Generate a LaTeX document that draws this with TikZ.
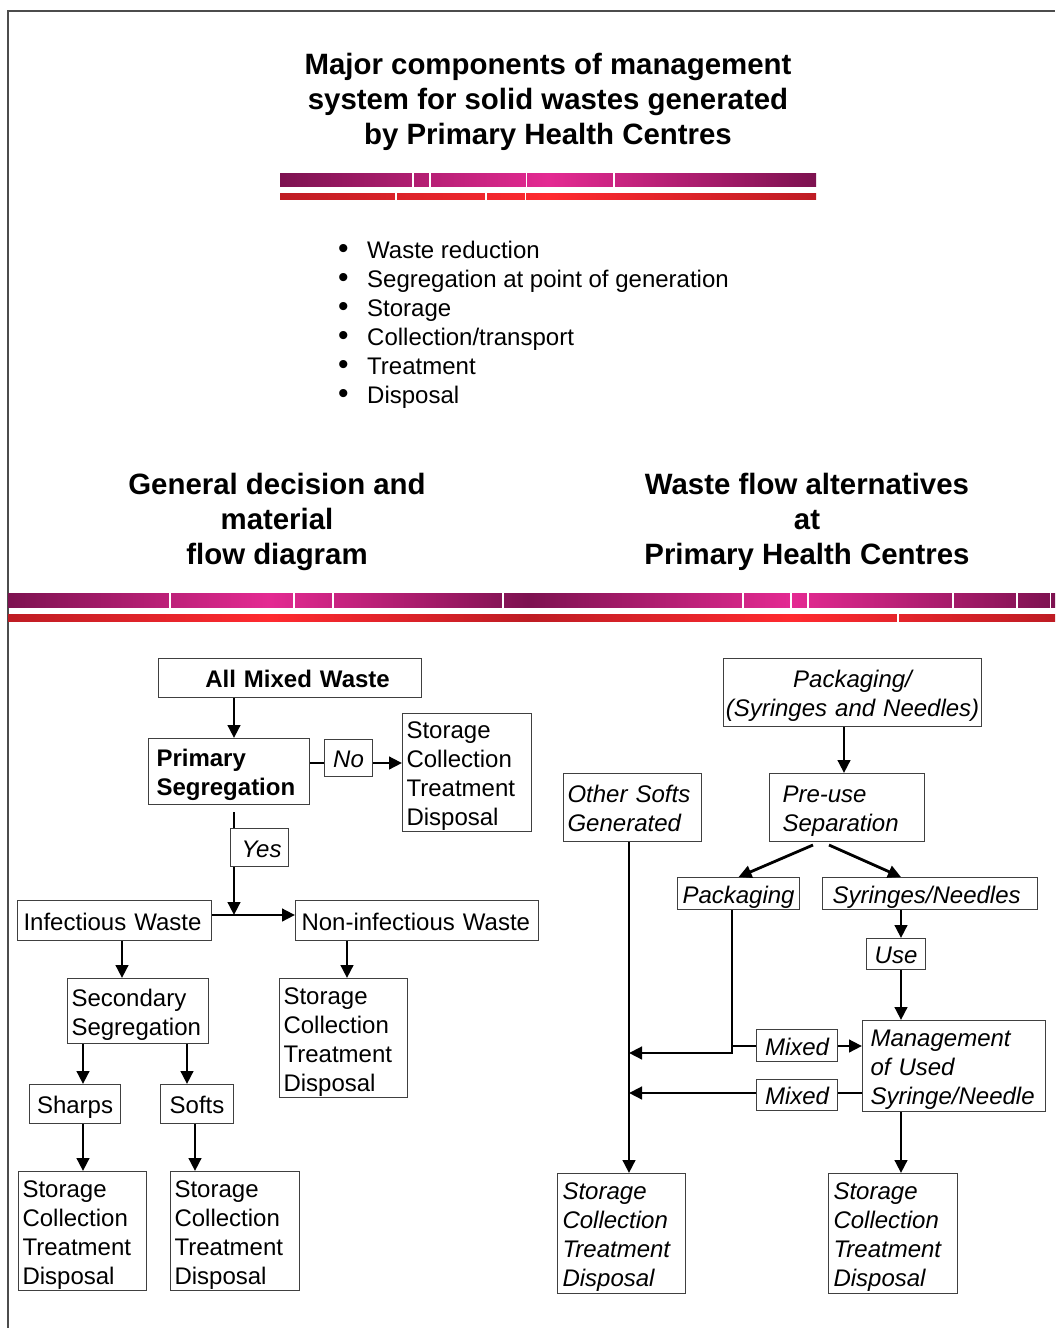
\documentclass[tikz,border=0pt]{standalone}
\usepackage{fontspec}
\setmainfont{Liberation Sans}
\usetikzlibrary{arrows.meta}
\hyphenpenalty=10000
\exhyphenpenalty=10000
\definecolor{pdark}{RGB}{125,18,80}
\definecolor{ppink}{RGB}{228,42,146}
\definecolor{rdark}{RGB}{190,28,36}
\definecolor{rbright}{RGB}{255,42,48}
\newcommand\myTs{\rule{0pt}{24pt}}
\newcommand\myBs{\rule[-5pt]{0pt}{5pt}}
\newcommand\mybul{\llap{{\fontsize{30}{29}\selectfont\textbullet}\hspace{18.5pt}}}
\begin{document}
\begin{tikzpicture}[x=1pt,y=-1pt,
  box/.style={draw=black!75, line width=1.1pt, fill=white, inner ysep=0pt, anchor=north west, font=\fontsize{24}{29}\selectfont},
  ibox/.style={box, font=\fontsize{24}{29}\selectfont\itshape},
  bbox/.style={box, font=\fontsize{24}{29}\selectfont\bfseries},
  head/.style={font=\fontsize{29.4}{35}\selectfont\bfseries, align=center, inner sep=0pt},
  ln/.style={line width=2.8pt},
  arr/.style={line width=2.8pt, -{Triangle[length=13pt,width=12.5pt]}},
  gap/.style={white, line width=1.5pt},
  purplebar/.style={left color=pdark, right color=pdark, middle color=ppink},
  redbar/.style={left color=rdark, right color=rdark, middle color=rbright}]
\path[use as bounding box, fill=white] (0,0) rectangle (1055,1328);
% frame
\draw[black!70, line width=1.5pt] (8,1328) -- (8,11) -- (1055,11);
% title
\node[head] (title) at (548,102) {\strut Major components of management\\system for solid wastes generated\\by Primary Health Centres\strut};
% top bars
\shade[purplebar] (280,173) rectangle (816,186);
\shade[redbar] (280,193) rectangle (816,199);
\foreach \x in {413,430,526.5,614} \draw[gap] (\x,172) -- (\x,187);
\foreach \x in {396,486,525.5} \draw[gap] (\x,192) -- (\x,200);
% bullets
\node[font=\fontsize{24}{29}\selectfont, align=left, inner sep=0pt, anchor=west] (bullets) at (367,324.8)
 {\strut\mybul Waste reduction\\\mybul Segregation at point of generation\\\mybul Storage\\\mybul Collection/transport\\\mybul Treatment\\\mybul Disposal\strut};
% headings
\node[head] (hl) at (277,522.5) {\strut General decision and\\material\\flow diagram\strut};
\node[head] (hr) at (807,522.5) {\strut Waste flow alternatives\\at\\Primary Health Centres\strut};
% wide bars
\shade[purplebar] (8,593) rectangle (528,607);
\shade[purplebar] (528,593) rectangle (1055,607);
\shade[redbar] (8,614) rectangle (528,621);
\shade[redbar] (528,614) rectangle (1055,621);
\foreach \x in {170,294,333,503,743,791,808,953,1017,1050.5} \draw[gap] (\x,592) -- (\x,608);
\draw[gap] (898,613) -- (898,622);

% ---------- left diagram ----------
\node[bbox, minimum width=263pt, minimum height=39pt, text width=255pt, inner xsep=4pt, align=center] (amw) at (158,658) {\myTs\hspace*{15pt}All Mixed Waste\myBs};
\node[bbox, minimum width=161pt, minimum height=66pt, text width=145pt, inner xsep=8pt, align=left] (prim) at (148,738) {\myTs Primary\\Segregation\myBs};
\node[ibox, minimum width=48pt, minimum height=37pt, text width=44pt, inner xsep=2pt, align=center] (no) at (324,739) {\myTs No\myBs};
\node[box, minimum width=129pt, minimum height=118pt, text width=121pt, inner xsep=4pt, align=left] (st1) at (402,713) {\myTs Storage\\Collection\\Treatment\\Disposal\myBs};
\node[ibox, minimum width=58pt, minimum height=38pt, text width=54pt, inner xsep=2pt, align=center] (yes) at (230,828) {\myTs\hspace*{4pt}Yes\myBs};
\node[box, minimum width=194pt, minimum height=40pt, text width=182pt, inner xsep=6pt, align=left] (inf) at (17,900) {\myTs Infectious Waste\myBs};
\node[box, minimum width=243pt, minimum height=40pt, text width=231pt, inner xsep=6pt, align=left] (noninf) at (295,900) {\myTs Non-infectious Waste\myBs};
\node[box, minimum width=141pt, minimum height=65pt, text width=133pt, inner xsep=4pt, align=left] (sec) at (67,978) {\myTs Secondary\\Segregation\myBs};
\node[box, minimum width=128pt, minimum height=119pt, text width=120pt, inner xsep=4pt, align=left] (st2) at (279,978) {\myTs Storage\\Collection\\Treatment\\Disposal\myBs};
\node[box, minimum width=91pt, minimum height=39pt, text width=87pt, inner xsep=2pt, align=center] (sharps) at (29,1084) {\myTs Sharps\myBs};
\node[box, minimum width=73pt, minimum height=39pt, text width=69pt, inner xsep=2pt, align=center] (softs) at (160,1084) {\myTs Softs\myBs};
\node[box, minimum width=128pt, minimum height=119pt, text width=120pt, inner xsep=4pt, align=left] (st3) at (18,1171) {\myTs Storage\\Collection\\Treatment\\Disposal\myBs};
\node[box, minimum width=129pt, minimum height=119pt, text width=121pt, inner xsep=4pt, align=left] (st4) at (170,1171) {\myTs Storage\\Collection\\Treatment\\Disposal\myBs};

\coordinate (xA) at (234,0);
\coordinate (yNo) at (0,763);
\coordinate (J) at (234,915);
\coordinate (xInf) at (122,0);
\coordinate (xNon) at (347,0);
\coordinate (xSh) at (83,0);
\coordinate (xSo) at (187,0);
\coordinate (xSo2) at (195,0);

\draw[arr] (amw.south -| xA) -- (prim.north -| xA);
\draw[ln] (prim.east |- yNo) -- (no.west |- yNo);
\draw[arr] (no.east |- yNo) -- (st1.west |- yNo);
\draw[ln, shorten <=7pt] (prim.south -| xA) -- (yes.north -| xA);
\draw[arr] (yes.south -| xA) -- (J);
\draw[arr] (inf.east |- J) -- (noninf.west |- J);
\draw[arr] (inf.south -| xInf) -- (sec.north -| xInf);
\draw[arr] (noninf.south -| xNon) -- (st2.north -| xNon);
\draw[arr] (sec.south -| xSh) -- (sharps.north -| xSh);
\draw[arr] (sec.south -| xSo) -- (softs.north -| xSo);
\draw[arr] (sharps.south -| xSh) -- (st3.north -| xSh);
\draw[arr] (softs.south -| xSo2) -- (st4.north -| xSo2);

% ---------- right diagram ----------
\node[ibox, minimum width=258pt, minimum height=68pt, text width=254pt, inner xsep=2pt, align=center] (pk) at (723,658) {\myTs Packaging/\\(Syringes and Needles)\myBs};
\node[ibox, minimum width=138pt, minimum height=68pt, text width=130pt, inner xsep=4pt, align=left] (os) at (563,773) {\myTs Other Softs\\Generated\myBs};
\node[ibox, minimum width=155pt, minimum height=68pt, text width=129pt, inner xsep=13pt, align=left] (pre) at (769,773) {\myTs Pre-use\\Separation\myBs};
\node[ibox, minimum width=122pt, minimum height=32pt, text width=118pt, inner xsep=2pt, align=center] (pkg) at (677,877) {\myTs Packaging\myBs};
\node[ibox, minimum width=215pt, minimum height=32pt, text width=195pt, inner xsep=10pt, align=left] (syr) at (822,877) {\myTs Syringes/Needles\myBs};
\node[ibox, minimum width=59pt, minimum height=31pt, text width=55pt, inner xsep=2pt, align=center] (use) at (866,938) {\myTs Use\myBs};
\node[ibox, minimum width=183pt, minimum height=91pt, text width=167pt, inner xsep=8pt, align=left] (mgmt) at (862,1020) {\myTs Management\\of Used\\Syringe/Needle\myBs};
\node[ibox, minimum width=81pt, minimum height=32pt, text width=77pt, inner xsep=2pt, align=center] (mx1) at (756,1029) {\myTs Mixed\myBs};
\node[ibox, minimum width=81pt, minimum height=31pt, text width=77pt, inner xsep=2pt, align=center] (mx2) at (756,1079) {\myTs Mixed\myBs};
\node[ibox, minimum width=128pt, minimum height=120pt, text width=118pt, inner xsep=5pt, align=left] (sr1) at (557,1173) {\myTs Storage\\Collection\\Treatment\\Disposal\myBs};
\node[ibox, minimum width=129pt, minimum height=120pt, text width=119pt, inner xsep=5pt, align=left] (sr2) at (828,1173) {\myTs Storage\\Collection\\Treatment\\Disposal\myBs};

\coordinate (xPk) at (844,0);
\coordinate (pa) at (813,845);
\coordinate (pb) at (829,845);
\coordinate (xU) at (901,0);
\coordinate (xOs) at (629,0);
\coordinate (xP) at (732,0);
\coordinate (yL) at (0,1053);
\coordinate (yR) at (0,1046);
\coordinate (yM) at (0,1093);

\draw[arr] (pk.south -| xPk) -- (pre.north -| xPk);
\draw[arr] (pa) -- (pkg.north);
\draw[arr] (pb) -- (syr.north -| xU);
\draw[arr] (syr.south -| xU) -- (use.north -| xU);
\draw[arr] (use.south -| xU) -- (mgmt.north -| xU);
\draw[arr] (mgmt.south -| xU) -- (sr2.north -| xU);
\draw[arr] (os.south -| xOs) -- (sr1.north -| xOs);
\draw[arr] (pkg.south -| xP) -- (xP |- yL) -- (xOs |- yL);
\draw[ln] (xP |- yR) -- (mx1.west |- yR);
\draw[arr] (mx1.east |- yR) -- (mgmt.west |- yR);
\draw[ln] (mgmt.west |- yM) -- (mx2.east |- yM);
\draw[arr] (mx2.west |- yM) -- (xOs |- yM);
\end{tikzpicture}
\end{document}
